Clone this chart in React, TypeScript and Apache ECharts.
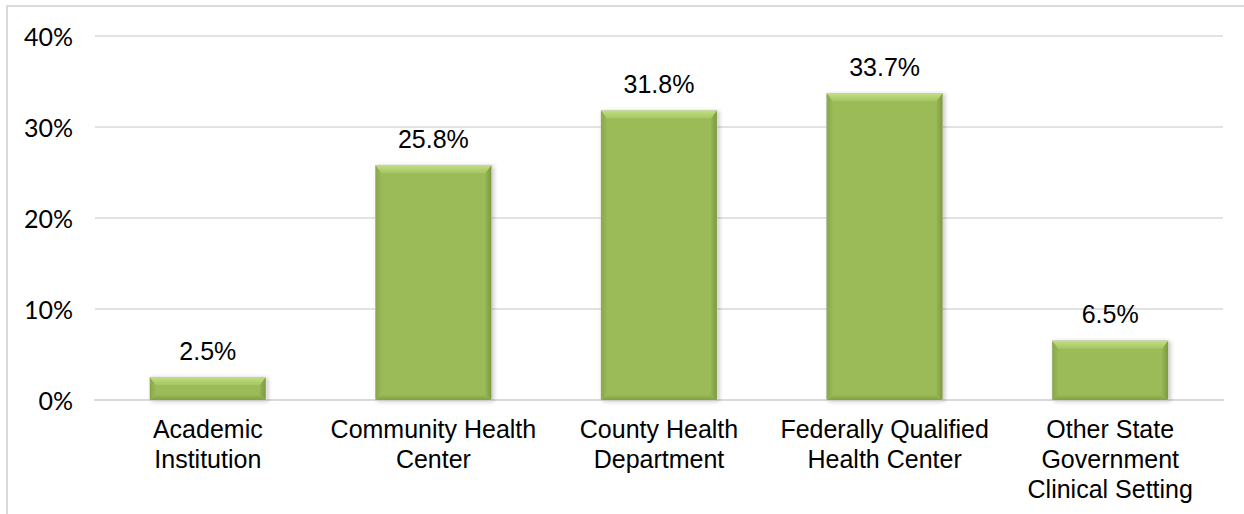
import React, { useEffect, useRef } from "react";
import * as echarts from "echarts";

const categories = [
  "Academic\nInstitution",
  "Community Health\nCenter",
  "County Health\nDepartment",
  "Federally Qualified\nHealth Center",
  "Other State\nGovernment\nClinical Setting",
];
const values = [2.5, 25.8, 31.8, 33.7, 6.5];
const yTicks = { min: 0, max: 40, interval: 10 };

export default function App() {
  const ref = useRef<HTMLDivElement>(null);
  useEffect(() => {
    if (!ref.current) return;
    const chart = echarts.init(ref.current, null, { renderer: "svg" });
    const ratio = 0.513;
    const grad = (x1: number, y1: number, x2: number, y2: number, c1: string, c2: string) =>
      new echarts.graphic.LinearGradient(x1, y1, x2, y2, [
        { offset: 0, color: c1 },
        { offset: 1, color: c2 },
      ]);
    chart.setOption({
      animation: false,
      backgroundColor: "#ffffff",
      graphic: [
        {
          type: "rect",
          shape: { x: 7, y: 6, width: 1400, height: 700 },
          style: { fill: "none", stroke: "#d9d9d9", lineWidth: 2 },
          silent: true,
        },
      ],
      grid: { left: 95, right: 21, top: 36, bottom: 114, containLabel: false },
      xAxis: {
        type: "category",
        data: categories,
        axisLine: { show: true, lineStyle: { color: "#d9d9d9", width: 2 } },
        axisTick: { show: false },
        axisLabel: {
          color: "#000",
          fontFamily: "Liberation Sans, Arial, sans-serif",
          fontSize: 25,
          lineHeight: 30,
          margin: 14,
          interval: 0,
        },
      },
      yAxis: {
        type: "value",
        min: yTicks.min,
        max: yTicks.max,
        interval: yTicks.interval,
        axisLine: { show: false },
        axisTick: { show: false },
        splitLine: { lineStyle: { color: "#d9d9d9", width: 1.5 } },
        axisLabel: {
          formatter: "{value}%",
          color: "#000",
          fontFamily: "Lato, 'Open Sans', sans-serif",
          fontSize: 25,
          margin: 22,
        },
      },
      series: [
        {
          type: "bar",
          data: values,
          barWidth: (ratio * 100).toFixed(1) + "%",
          itemStyle: { color: "rgba(0,0,0,0)" },
          label: {
            show: true,
            position: "top",
            distance: 14,
            formatter: "{c}%",
            color: "#000",
            fontFamily: "Liberation Sans, Arial, sans-serif",
            fontSize: 25,
          },
          z: 3,
        },
        {
          type: "custom",
          data: values.map((v, i) => [i, v]),
          z: 2,
          renderItem: (params: any, api: any) => {
            const top = api.coord([api.value(0), api.value(1)]);
            const base = api.coord([api.value(0), 0]);
            const bw = api.size([1, 0])[0] * ratio;
            const l = top[0] - bw / 2;
            const r = top[0] + bw / 2;
            const t = top[1];
            const bt = base[1];
            const h = bt - t;
            const bTop = Math.min(8, h / 2);
            const bSide = Math.min(6, h / 2);
            const bBot = Math.min(5, h / 2);
            return {
              type: "group",
              children: [
                {
                  type: "rect",
                  shape: { x: l, y: t, width: bw, height: h },
                  style: {
                    fill: "#9bbb59",
                    stroke: "#cfcfc4",
                    lineWidth: 1,
                    shadowBlur: 4,
                    shadowOffsetX: 2,
                    shadowOffsetY: 1,
                    shadowColor: "rgba(0,0,0,0.22)",
                  },
                },
                {
                  type: "polygon",
                  shape: { points: [[l, t], [l + bSide, t + bTop], [l + bSide, bt - bBot], [l, bt]] },
                  style: { fill: grad(0, 0, 1, 0, "#86a947", "#99b957") },
                },
                {
                  type: "polygon",
                  shape: { points: [[r, t], [r - bSide, t + bTop], [r - bSide, bt - bBot], [r, bt]] },
                  style: { fill: grad(1, 0, 0, 0, "#7b9a3e", "#96b654") },
                },
                {
                  type: "polygon",
                  shape: { points: [[l, bt], [l + bSide, bt - bBot], [r - bSide, bt - bBot], [r, bt]] },
                  style: { fill: grad(0, 1, 0, 0, "#82a243", "#98b856") },
                },
                {
                  type: "polygon",
                  shape: { points: [[l, t], [r, t], [r - bSide, t + bTop], [l + bSide, t + bTop]] },
                  style: { fill: grad(0, 0, 0, 1, "#c2de82", "#a5c462") },
                },
              ],
            };
          },
        },
      ],
    });
    return () => chart.dispose();
  }, []);
  return (
    <div
      ref={ref}
      style={{ position: "fixed", left: 0, top: 0, width: 1244, height: 514 }}
    />
  );
}
